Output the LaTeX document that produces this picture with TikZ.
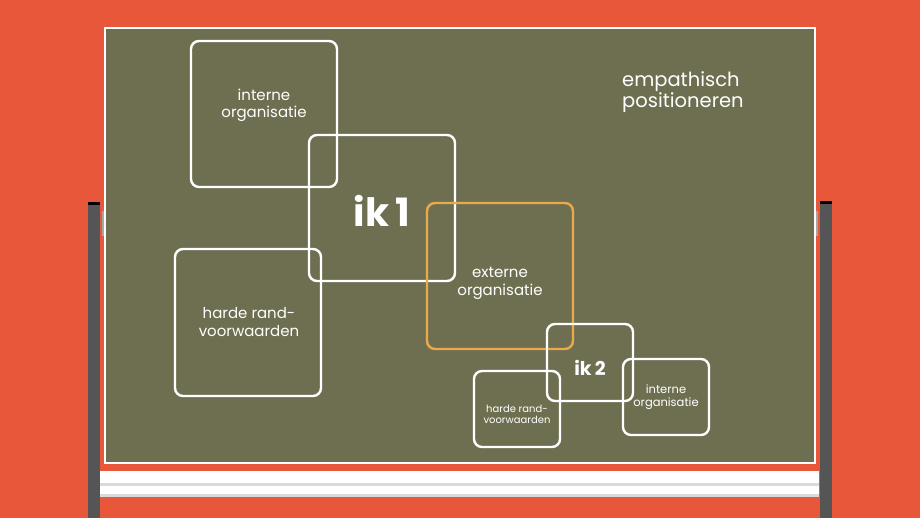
\documentclass[tikz,border=0pt]{standalone}
\usepackage{fontspec}
\setmainfont{Poppins}
\usepackage{tikz}
\definecolor{bordoranje}{HTML}{E8573A}
\definecolor{bordgroen}{HTML}{6E6F51}
\definecolor{pootgrijs}{HTML}{555555}
\definecolor{goudgeel}{HTML}{EAAA4C}
\definecolor{lijstgrijs}{HTML}{DADADA}

\begin{document}
\begin{tikzpicture}[x=1pt, y=-1pt,
		vak/.style={draw=white, line width=2.4pt, rounded corners=8pt, inner sep=0pt},
		tekst/.style={text=white, align=center, inner sep=0pt}]
				\useasboundingbox (0,0) rectangle (920,518);
				\fill[bordoranje] (0,0) rectangle (920,518);
				% poten
				\fill[pootgrijs] (88,202) rectangle (100,518);
				\fill[black] (88,202) rectangle (100,205);
				\fill[pootgrijs] (820,201) rectangle (832,518);
				\fill[black] (820,201) rectangle (832,204);
				\fill[gray!70] (102,211) rectangle (104,236);
				\fill[gray!70] (816,211) rectangle (818,236);
				% bord
				\draw[fill=bordgroen, draw=white, line width=2pt]  (105,28) rectangle (815,463);
				% lijst onder
				\fill[white] (100,471) rectangle (819,483);
				\fill[lijstgrijs] (100,483) rectangle (819,486);
				\fill[white] (100,486) rectangle (819,494);
				\fill[lijstgrijs] (100,494) rectangle (819,497);
				% vakken
				\node[vak, minimum width=146pt, minimum height=146pt] (intern1) at (264,114) {};
				\node[vak, minimum width=146pt, minimum height=146pt] (ik1) at (382,208) {};
				\node[vak, minimum width=146pt, minimum height=147pt] (harde1) at (248,322.5) {};
				\node[vak, draw=goudgeel, minimum width=146pt, minimum height=146pt] (extern) at (500,276) {};
				\node[vak, minimum width=86pt, minimum height=77pt] (ik2) at (590,362.5) {};
				\node[vak, minimum width=86pt, minimum height=76pt] (harde2) at (517,409) {};
				\node[vak, minimum width=86pt, minimum height=76pt] (intern2) at (666,397) {};
				% teksten
				\node[tekst, font=\fontsize{15}{17}\selectfont] (tintern1) at (264,105) {interne\\organisatie};
				\node[tekst, font=\fontsize{39}{42}\selectfont\bfseries] (tik1) at (382,211) {ik\,1};
				\node[tekst, font=\fontsize{15}{18}\selectfont] (tharde1) at (249,322) {harde rand-\\voorwaarden};
				\node[tekst, font=\fontsize{15}{18}\selectfont] (textern) at (500,283) {externe\\organisatie};
				\node[tekst, font=\fontsize{19}{22}\selectfont\bfseries] (tik2) at (590,368) {ik\,2};
				\node[tekst, font=\fontsize{10}{11}\selectfont] (tharde2) at (517,414) {harde rand-\\voorwaarden};
				\node[tekst, font=\fontsize{11.5}{13}\selectfont] (tintern2) at (666,397.5) {interne\\organisatie};
				\node[tekst, align=left, anchor=north west, font=\fontsize{19.5}{21.5}\selectfont] (titel) at (622,71) {empathisch\\positioneren};
\end{tikzpicture}
\end{document}
